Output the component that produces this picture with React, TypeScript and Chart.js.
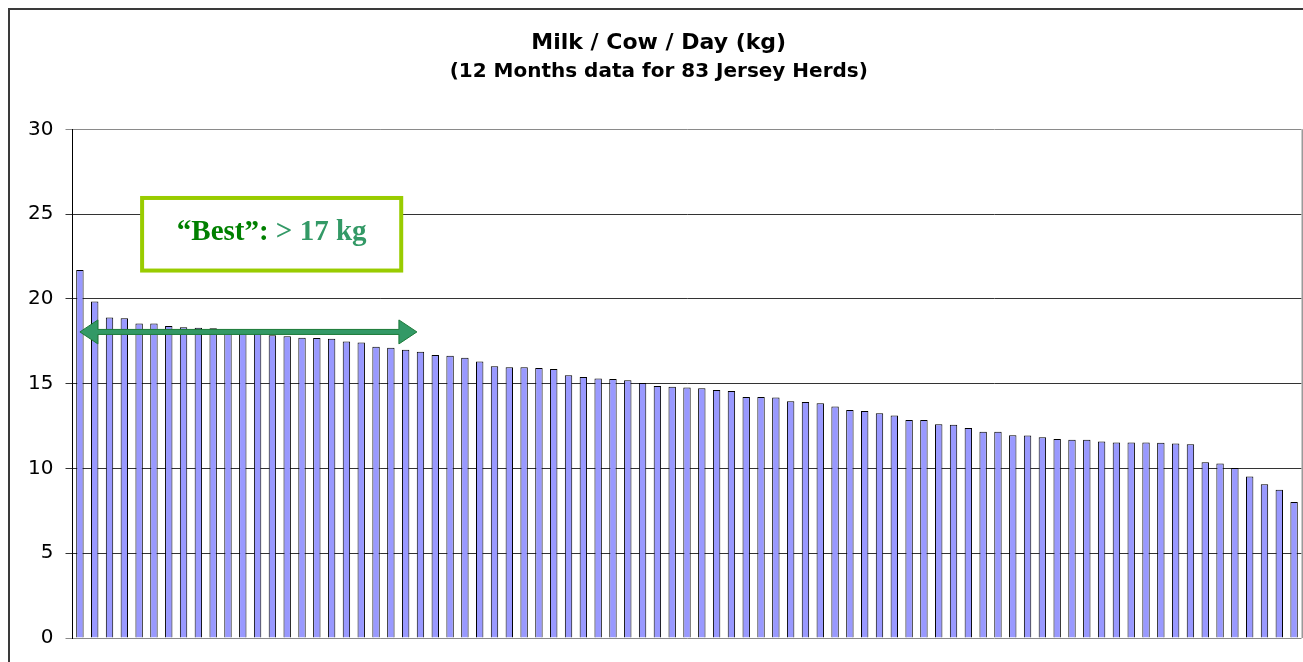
import React, { useEffect, useRef } from "react";
import { Chart, registerables } from "chart.js";

Chart.register(...registerables);

const TITLE = "Milk / Cow / Day (kg)";
const SUBTITLE = "(12 Months data for 83 Jersey Herds)";

const HERDS = [
  "1","2","3","4","5","6","7","8","9","10","11","12","13","14","15","16","17","18","19","20",
  "21","22","23","24","25","26","27","28","29","30","31","32","33","34","35","36","37","38","39","40",
  "41","42","43","44","45","46","47","48","49","50","51","52","53","54","55","56","57","58","59","60",
  "61","62","63","64","65","66","67","68","69","70","71","72","73","74","75","76","77","78","79","80",
  "81","82","83",
];

const MILK_KG = [
  21.7, 19.85, 18.9, 18.85, 18.55, 18.55, 18.4, 18.33, 18.3, 18.27,
  18.18, 18.15, 18.1, 17.86, 17.8, 17.7, 17.69, 17.65, 17.49, 17.43,
  17.18, 17.12, 17.0, 16.88, 16.69, 16.65, 16.53, 16.31, 16.02, 15.96,
  15.96, 15.92, 15.86, 15.49, 15.39, 15.31, 15.28, 15.2, 15.04, 14.86,
  14.82, 14.78, 14.73, 14.63, 14.57, 14.22, 14.22, 14.18, 13.96, 13.92,
  13.84, 13.65, 13.45, 13.39, 13.25, 13.12, 12.86, 12.86, 12.6, 12.57,
  12.39, 12.16, 12.16, 11.96, 11.94, 11.84, 11.74, 11.69, 11.69, 11.59,
  11.53, 11.53, 11.53, 11.51, 11.47, 11.43, 10.37, 10.29, 10.02, 9.53,
  9.06, 8.75, 8.02,
];

const Y_TICKS = [0, 5, 10, 15, 20, 25, 30];

const BEST_LABEL_A = "\u201CBest\u201D:";
const BEST_LABEL_B = "> 17 kg";

// annotation anchors in data units (category index, kg)
const BOX_X = [4.2, 21.7];
const BOX_Y = [21.67, 25.95];
const LABEL_Y = 23.9;
const ARROW_X = [0.0, 22.76];
const ARROW_Y = 18.05;

const annotationPlugin = {
  id: "bestAnnotation",
  afterDraw(chart: any) {
    const { ctx, chartArea, scales } = chart;
    const x = scales.x;
    const y = scales.y;
    const x0 = x.getPixelForValue(0);
    const catW = x.getPixelForValue(1) - x0;
    const px = (v: number) => x0 + v * catW;

    ctx.save();
    // right border of plot area
    ctx.strokeStyle = "#9a9a9a";
    ctx.lineWidth = 2;
    ctx.beginPath();
    ctx.moveTo(chartArea.right + 1, chartArea.top);
    ctx.lineTo(chartArea.right + 1, chartArea.bottom);
    ctx.stroke();

    // box
    const bx0 = px(BOX_X[0]);
    const bx1 = px(BOX_X[1]);
    const by0 = y.getPixelForValue(BOX_Y[1]);
    const by1 = y.getPixelForValue(BOX_Y[0]);
    ctx.fillStyle = "#ffffff";
    ctx.fillRect(bx0, by0, bx1 - bx0, by1 - by0);
    ctx.strokeStyle = "#99CC00";
    ctx.lineWidth = 4;
    ctx.strokeRect(bx0, by0, bx1 - bx0, by1 - by0);

    // label
    ctx.font = 'bold 29px "Liberation Serif", "Times New Roman", serif';
    ctx.textBaseline = "middle";
    ctx.textAlign = "left";
    const wa = ctx.measureText(BEST_LABEL_A).width;
    const ws = ctx.measureText(" ").width;
    const wb = ctx.measureText(BEST_LABEL_B).width;
    const total = wa + ws + wb;
    const cx = (bx0 + bx1) / 2;
    const ly = y.getPixelForValue(LABEL_Y);
    let tx = cx - total / 2;
    ctx.fillStyle = "#008000";
    ctx.fillText(BEST_LABEL_A, tx, ly);
    tx += wa + ws;
    ctx.fillStyle = "#339966";
    ctx.fillText(BEST_LABEL_B, tx, ly);

    // double arrow
    const ax0 = px(ARROW_X[0]);
    const ax1 = px(ARROW_X[1]);
    const ay = y.getPixelForValue(ARROW_Y);
    const hl = 18;
    const hh = 12;
    const st = 2.5;
    ctx.beginPath();
    ctx.moveTo(ax0, ay);
    ctx.lineTo(ax0 + hl, ay - hh);
    ctx.lineTo(ax0 + hl, ay - st);
    ctx.lineTo(ax1 - hl, ay - st);
    ctx.lineTo(ax1 - hl, ay - hh);
    ctx.lineTo(ax1, ay);
    ctx.lineTo(ax1 - hl, ay + hh);
    ctx.lineTo(ax1 - hl, ay + st);
    ctx.lineTo(ax0 + hl, ay + st);
    ctx.lineTo(ax0 + hl, ay + hh);
    ctx.closePath();
    ctx.fillStyle = "#339966";
    ctx.fill();
    ctx.strokeStyle = "#1c7a38";
    ctx.lineWidth = 1;
    ctx.stroke();
    ctx.restore();
  },
};

export default function App() {
  const ref = useRef<HTMLCanvasElement | null>(null);

  useEffect(() => {
    if (!ref.current) return;
    const chart = new Chart(ref.current, {
      type: "bar",
      data: {
        labels: HERDS,
        datasets: [
          {
            label: TITLE,
            data: MILK_KG,
            backgroundColor: "#9999FF",
            borderColor: "#000000",
            borderWidth: 1,
            barPercentage: 0.5,
            categoryPercentage: 1,
          },
        ],
      },
      options: {
        animation: false,
        responsive: false,
        maintainAspectRatio: false,
        layout: { padding: { left: 6, right: 1.5, top: 0, bottom: 22.7 } },
        plugins: {
          legend: { display: false },
          tooltip: { enabled: false },
          title: {
            display: true,
            text: TITLE,
            color: "#000",
            font: { family: "DejaVu Sans", size: 22, weight: "bold", lineHeight: 1.2 },
            padding: { top: 20, bottom: 0 },
          },
          subtitle: {
            display: true,
            text: SUBTITLE,
            color: "#000",
            font: { family: "DejaVu Sans", size: 20, weight: "bold", lineHeight: 1.2 },
            padding: { top: 3.6, bottom: 45.3 },
          },
        },
        scales: {
          x: {
            display: false,
            grid: { display: false, drawTicks: false },
            ticks: { display: false },
          },
          y: {
            min: 0,
            max: 30,
            afterFit: (s: any) => {
              s.width = 56.5;
            },
            afterBuildTicks: (s: any) => {
              s.ticks = Y_TICKS.map((v) => ({ value: v }));
            },
            ticks: {
              stepSize: 5,
              padding: 12,
              color: "#000",
              font: { family: "DejaVu Sans", size: 20 },
            },
            grid: {
              drawTicks: true,
              tickLength: 7,
              lineWidth: 1,
              color: (c: any) =>
                c.tick && (c.tick.value === 0 || c.tick.value === 30) ? "#8a8a8a" : "#333333",
            },
            border: { display: true, color: "#000", width: 1 },
          },
        },
      },
      plugins: [annotationPlugin],
    });
    return () => chart.destroy();
  }, []);

  return (
    <div
      style={{
        position: "fixed",
        left: 8,
        top: 8,
        width: 1310,
        height: 670,
        borderLeft: "2px solid #3a3a3a",
        borderTop: "2px solid #3a3a3a",
        background: "#fff",
      }}
    >
      <canvas ref={ref} width={1293} height={652} style={{ display: "block" }} />
    </div>
  );
}
